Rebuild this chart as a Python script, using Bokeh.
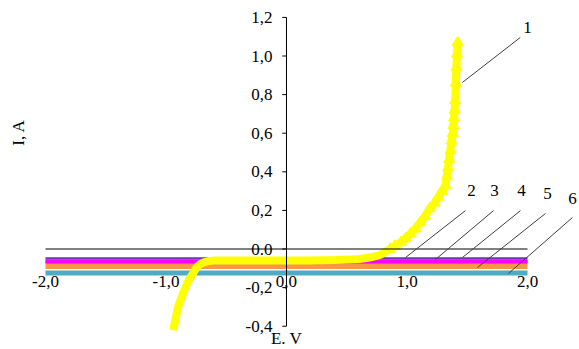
from bokeh.plotting import figure
from bokeh.models import Range1d
from bokeh.core.properties import value
from bokeh.embed import file_html
from bokeh.resources import INLINE

# ---- data ----
curve1_E = [-0.94, -0.92, -0.90, -0.87, -0.84, -0.81, -0.78, -0.75, -0.72, -0.68,
            -0.64, -0.60, -0.55, -0.50, -0.40, -0.30, -0.20, -0.10, 0.00, 0.10,
            0.20, 0.30, 0.40, 0.50, 0.60, 0.65, 0.70, 0.75, 0.78, 0.82,
            0.86, 0.90, 0.95, 0.99, 1.03, 1.07, 1.11, 1.15, 1.19, 1.23,
            1.26, 1.29, 1.32, 1.33, 1.34, 1.35, 1.36, 1.37, 1.38, 1.385,
            1.39, 1.395, 1.40, 1.405, 1.41, 1.415, 1.42]
curve1_I = [-0.42, -0.36, -0.30, -0.25, -0.20, -0.16, -0.13, -0.10, -0.08, -0.068,
            -0.062, -0.060, -0.060, -0.060, -0.060, -0.060, -0.060, -0.060, -0.060, -0.060,
            -0.059, -0.058, -0.057, -0.055, -0.052, -0.048, -0.043, -0.036, -0.030, -0.015,
            0.000, 0.015, 0.034, 0.055, 0.080, 0.105, 0.137, 0.170, 0.210, 0.240,
            0.270, 0.300, 0.330, 0.375, 0.420, 0.465, 0.510, 0.560, 0.600, 0.640,
            0.680, 0.720, 0.770, 0.860, 0.940, 1.010, 1.070]

flat_E = [-2.0, 2.0]
curve2_I = [-0.048, -0.048]
curve3_I = [-0.063, -0.063]
curve4_I = [-0.066, -0.066]
curve5_I = [-0.091, -0.091]
curve6_I = [-0.124, -0.124]

x_ticks = [-2.0, -1.0, 0.0, 1.0, 2.0]
x_tick_labels = ["-2,0", "-1,0", "0,0", "1,0", "2,0"]
y_ticks = [1.2, 1.0, 0.8, 0.6, 0.4, 0.2, 0.0, -0.2, -0.4]
y_tick_labels = ["1,2", "1,0", "0,8", "0,6", "0,4", "0,2", "0.0", "-0,2", "-0,4"]

series_labels = ["1", "2", "3", "4", "5", "6"]

FONT = value("Liberation Serif")

W, H = 579, 349
p = figure(width=W, height=H, output_backend="svg", toolbar_location=None,
           x_range=Range1d(-2.3734, 2.4315), y_range=Range1d(-0.5207, 1.2876),
           min_border=0, x_axis_type=None, y_axis_type=None)
p.grid.visible = False
p.outline_line_color = None
p.background_fill_color = "white"

# flat series 2..6
p.line(flat_E, curve6_I, line_color="#4BACC6", line_width=5)
p.line(flat_E, curve5_I, line_color="#F79646", line_width=5)
p.line(flat_E, curve4_I, line_color="#FF00FF", line_width=4)
p.line(flat_E, curve3_I, line_color="#FF00FF", line_width=4)
p.line(flat_E, curve2_I, line_color="#7030C0", line_width=2)

# series 1
p.line(curve1_E, curve1_I, line_color="#FFFF00", line_width=8)
p.scatter(curve1_E[30:], curve1_I[30:], marker="triangle", size=11,
          fill_color="#FFFF00", line_color="#FFFF00")

# axes drawn manually (crossing at origin)
p.line([-2.0, 2.0], [0.0, 0.0], line_color="black", line_width=1)
p.line([0.0, 0.0], [y_ticks[-1], y_ticks[0]], line_color="black", line_width=1)
p.segment(x0=[-0.035] * len(y_ticks), y0=y_ticks, x1=[0.0] * len(y_ticks), y1=y_ticks,
          line_color="black", line_width=1)
p.text(x=[-0.116] * len(y_ticks), y=y_ticks, text=y_tick_labels,
       text_align="right", text_baseline="middle", text_font=FONT,
       text_font_size="17px", text_color="black")
p.text(x=x_ticks, y=[-0.168] * len(x_ticks), text=x_tick_labels,
       text_align="center", text_baseline="middle", text_font=FONT,
       text_font_size="17px", text_color="black")

# axis titles
p.text(x=[-2.224], y=[0.604], text=["I, A"], angle=1.5708,
       text_align="center", text_baseline="middle", text_font=FONT,
       text_font_size="17px", text_color="black")
p.text(x=[0.0], y=[-0.512], text=["E. V"],
       text_align="center", text_baseline="bottom", text_font=FONT,
       text_font_size="17px", text_color="black")

# leader lines and series numbers
lead_x0 = [1.94, 1.485, 1.718, 1.942, 2.149, 2.373]
lead_y0 = [1.096, 0.199, 0.199, 0.199, 0.184, 0.163]
lead_x1 = [1.46, 0.988, 1.237, 1.46, 1.585, 1.842]
lead_y1 = [0.863, -0.044, -0.054, -0.044, -0.096, -0.127]
p.segment(x0=lead_x0, y0=lead_y0, x1=lead_x1, y1=lead_y1,
          line_color="#404040", line_width=1)
lab_x = [2.0, 1.535, 1.726, 1.95, 2.166, 2.373]
lab_y = [1.148, 0.302, 0.302, 0.302, 0.288, 0.262]
p.text(x=lab_x, y=lab_y, text=series_labels, text_align="center",
       text_baseline="middle", text_font=FONT, text_font_size="17px",
       text_color="black")

html = file_html(p, INLINE)
open("out.html", "w").write(html)
